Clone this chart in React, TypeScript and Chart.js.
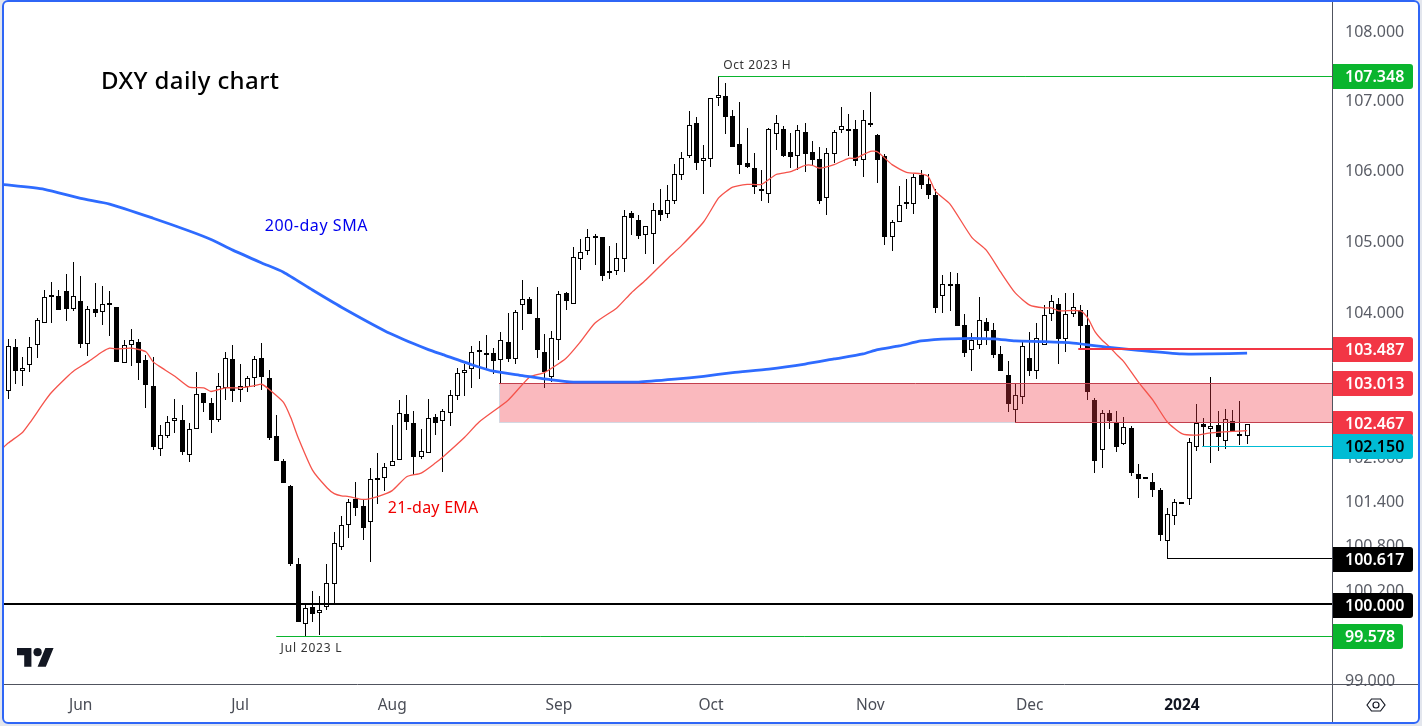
import React, { useEffect, useRef } from "react";
import { Chart, registerables } from "chart.js";

Chart.register(...registerables);

const opens = [102.90,103.52,103.19,103.27,103.54,103.85,104.23,104.23,104.30,104.05,104.16,103.56,104.04,104.01,104.13,104.07,103.30,103.55,103.59,103.34,
102.98,102.11,102.29,102.49,102.51,102.03,102.38,102.88,102.74,102.51,102.95,103.35,102.92,102.96,103.08,103.36,103.09,102.29,101.95,101.61,
100.54,99.74,99.97,99.89,99.97,100.27,100.78,101.08,101.43,101.33,101.11,101.71,101.71,101.87,101.96,102.59,102.47,102.00,102.06,102.55,
102.49,102.61,102.84,103.15,103.21,103.48,103.40,103.43,103.33,103.58,103.35,104.10,104.18,103.92,103.45,103.10,103.62,104.27,104.12,104.75,
104.86,105.07,105.06,104.57,104.57,104.74,105.39,105.29,105.08,105.10,105.44,105.38,105.57,105.93,106.20,106.67,106.13,106.16,107.03,107.06,
106.77,106.37,106.10,106.03,105.73,105.66,106.52,106.59,106.26,106.20,106.54,106.26,106.16,105.60,106.23,106.58,106.59,106.59,106.14,106.68,
106.50,106.20,105.06,105.27,105.55,105.52,105.93,105.80,105.65,104.22,104.36,104.40,103.82,103.47,103.55,103.86,103.75,103.42,103.13,102.65,
102.83,103.36,103.19,103.55,103.98,104.11,103.63,103.98,104.03,103.82,102.78,102.10,102.60,102.48,102.18,102.40,101.77,101.72,101.66,101.55,
100.86,101.20,101.38,101.42,102.14,102.45,102.39,102.44,102.22,102.49,102.31,102.29];

const highs = [103.63,103.63,103.38,103.66,103.92,104.31,104.42,104.31,104.53,104.70,104.51,104.09,104.41,104.37,104.30,104.07,103.61,103.77,103.63,103.41,
103.38,102.44,102.56,102.80,102.71,102.47,103.17,102.88,102.81,103.16,103.45,103.55,103.28,103.11,103.39,103.57,103.20,102.58,101.97,101.62,
100.62,100.00,100.18,100.12,100.55,100.98,101.20,101.43,101.66,101.43,101.85,102.05,101.92,102.44,102.78,102.85,102.63,102.38,102.80,102.59,
102.66,102.92,103.22,103.28,103.53,103.60,103.68,103.50,103.72,103.99,104.03,104.45,104.21,104.35,103.70,103.74,104.30,104.28,104.92,105.03,
105.17,105.10,105.06,104.93,104.97,105.43,105.42,105.37,105.21,105.53,105.74,105.79,106.09,106.26,106.84,106.76,106.36,107.03,107.348,107.25,
106.86,106.97,106.60,106.24,106.01,106.60,106.79,106.63,106.53,106.64,106.67,106.41,106.33,106.31,106.57,106.90,106.80,106.72,106.86,107.12,
106.51,106.23,105.29,105.77,105.87,105.95,106.00,105.95,105.73,104.52,104.56,104.55,103.97,103.71,104.21,103.92,103.85,103.53,103.32,103.00,
103.60,103.72,103.85,104.10,104.24,104.20,104.27,104.27,104.10,104.03,102.81,102.65,102.65,102.63,102.55,102.43,101.90,101.72,101.78,101.58,
101.31,101.43,101.38,102.26,102.73,102.54,103.10,102.63,102.66,102.65,102.77,102.45];

const lows = [102.80,103.00,102.98,103.17,103.36,103.85,103.85,104.03,103.88,104.02,103.50,103.39,103.93,103.82,103.67,103.31,103.30,103.25,103.06,102.67,
102.10,102.01,102.26,102.33,102.03,101.93,102.38,102.62,102.33,102.48,102.78,102.76,102.76,102.89,102.96,102.92,102.23,101.95,101.65,100.52,
99.76,99.578,99.77,99.59,99.93,100.01,100.74,100.90,101.20,100.87,100.57,101.36,101.54,101.87,101.96,102.37,101.76,101.97,102.06,102.30,
101.80,102.43,102.78,102.84,102.95,103.07,103.22,103.14,103.01,103.31,103.28,103.75,103.97,103.36,102.95,103.03,103.34,104.03,104.12,104.59,
104.80,104.66,104.43,104.47,104.52,104.56,105.08,105.03,104.82,104.68,105.28,105.32,105.52,105.86,106.17,106.01,105.66,106.04,106.92,106.51,
106.33,105.95,106.03,105.66,105.56,105.53,106.29,106.19,106.03,106.01,105.97,106.07,105.52,105.36,106.10,106.53,106.20,106.06,105.90,106.61,
105.82,104.94,104.86,105.27,105.45,105.38,105.74,105.59,103.99,103.99,104.02,103.81,103.38,103.18,103.49,103.54,103.37,103.18,102.62,102.47,
102.73,103.11,103.07,103.55,103.88,103.28,103.45,103.93,103.50,102.78,101.78,101.85,102.38,102.07,102.17,101.74,101.44,101.71,101.45,100.85,
100.617,101.08,101.37,101.35,102.08,102.14,101.92,102.08,102.11,102.36,102.16,102.18];

const closes = [103.53,103.19,103.23,103.51,103.89,104.21,104.24,104.03,104.04,104.22,103.56,104.04,103.99,104.12,104.12,103.31,103.55,103.62,103.30,102.99,
102.14,102.30,102.48,102.53,102.07,102.39,102.87,102.74,102.51,102.97,103.36,102.91,102.97,103.08,103.35,103.10,102.26,101.95,101.65,100.55,
99.77,99.96,99.87,99.93,100.29,100.83,101.08,101.38,101.30,101.03,101.70,101.70,101.86,101.95,102.60,102.48,102.00,102.08,102.54,102.47,
102.63,102.85,103.16,103.20,103.44,103.44,103.43,103.32,103.61,103.35,104.00,104.18,103.97,103.48,103.17,103.64,104.26,104.16,104.78,104.84,
105.05,105.06,104.51,104.56,104.76,105.35,105.32,105.07,105.21,105.44,105.37,105.58,105.94,106.17,106.65,106.11,106.17,107.03,107.07,106.76,
106.33,106.08,106.04,105.76,105.72,106.59,106.67,106.20,106.19,106.57,106.23,106.14,105.57,106.24,106.54,106.63,106.58,106.13,106.71,106.67,
106.14,105.05,105.26,105.50,105.54,105.90,105.79,105.65,104.06,104.39,104.39,103.81,103.43,103.61,103.89,103.74,103.41,103.18,102.73,102.85,
103.53,103.18,103.64,103.96,104.15,103.63,103.98,104.08,103.81,102.89,101.95,102.60,102.49,102.14,102.41,101.78,101.70,101.71,101.55,100.94,
101.22,101.38,101.37,102.20,102.46,102.41,102.43,102.27,102.52,102.36,102.29,102.45];

const emaIndex = [-1,0,2,3,5,6,8,9,11,13,14,15,17,19,20,21,23,25,27,28,30,32,34,35,36,38,39,40,42,44,45,46,47,49,51,53,55,57,59,60,63,65,69,72,74,77,79,81,84,86,88,91,93,96,98,99,100,102,104,106,108,110,111,112,114,116,117,119,120,122,124,126,127,128,130,133,135,137,139,141,143,144,145,148,149,150,151,152,153,154,156,158,160,162,164,166,171];
const emaValues = [102.10,102.19,102.34,102.47,102.76,102.89,103.09,103.18,103.31,103.45,103.50,103.49,103.50,103.45,103.31,103.24,103.11,102.96,102.95,102.90,102.95,102.95,102.98,103.00,102.93,102.75,102.54,102.27,101.82,101.58,101.50,101.47,101.46,101.42,101.46,101.54,101.73,101.78,101.92,102.00,102.27,102.48,102.78,103.10,103.16,103.36,103.59,103.85,104.06,104.27,104.45,104.75,104.94,105.27,105.60,105.69,105.76,105.80,105.80,105.94,105.98,106.07,106.07,106.03,106.08,106.17,106.17,106.27,106.26,106.08,105.97,105.95,105.91,105.70,105.52,105.05,104.87,104.56,104.27,104.10,104.06,104.06,104.02,104.02,103.92,103.73,103.61,103.52,103.41,103.31,103.03,102.78,102.48,102.32,102.30,102.33,102.36];

const smaIndex = [-1,5,10,14,20,25,28,31,35,38,42,46,52,56,58,60,64,67,71,75,78,83,87,92,96,100,105,110,114,118,120,123,126,130,136,139,143,147,152,156,162,166,171];
const smaValues = [105.80,105.73,105.60,105.52,105.32,105.14,105.02,104.87,104.69,104.56,104.31,104.07,103.74,103.56,103.48,103.41,103.27,103.18,103.12,103.06,103.03,103.03,103.03,103.07,103.11,103.16,103.21,103.28,103.35,103.42,103.48,103.53,103.60,103.63,103.63,103.60,103.59,103.57,103.51,103.47,103.42,103.42,103.43];

const yTickValues = [108, 107, 106, 105, 104, 102, 101.4, 100.8, 100.2, 99];
const monthTickIndex = [10, 32, 53, 76, 97, 119, 141, 162];
const monthTickLabels = ["Jun", "Jul", "Aug", "Sep", "Oct", "Nov", "Dec", "2024"];

const levelPrices = [107.348, 103.487, 102.15, 100.617, 100, 99.578];
const levelStarts = [98, 147.7, 164.8, 160, -1, 37];
const levelColors = ["#0ab52e", "#f23645", "#00bcd4", "#000000", "#000000", "#0ab52e"];
const levelWidths = [1, 2, 1, 1, 2, 1];

const zoneTop = 103.013;
const zoneBottom = 102.467;
const zoneStart = 67.8;
const zoneEdgeStart = 139;

const tagPrices = [107.348, 103.487, 103.013, 102.467, 102.15, 100.617, 100, 99.578];
const tagFills = ["#0ab52e", "#f23645", "#f23645", "#f23645", "#00bcd4", "#000000", "#000000", "#0ab52e"];
const tagInk = ["#ffffff", "#ffffff", "#ffffff", "#ffffff", "#000000", "#ffffff", "#ffffff", "#ffffff"];

const noteTexts = ["DXY daily chart", "200-day SMA", "21-day EMA", "Oct 2023 H", "Jul 2023 L"];
const noteIndex = [12.8, 35.4, 52.4, 98.7, 37.6];
const notePrices = [107.276, 105.22, 101.31, 107.52, 99.43];
const noteFonts = ['500 24px "Noto Sans"', '16px "Noto Sans"', '16px "Noto Sans"', '12px "Noto Sans"', '12px "Noto Sans"'];
const noteSpacing = ["0.4px", "0.55px", "0.25px", "0.6px", "0.8px"];
const noteColors = ["#000000", "#0000ee", "#f00000", "#333333", "#333333"];

const FONT = '"Noto Sans", sans-serif';
const snap = (v: number) => Math.floor(v) + 0.5;

const candleIdx = opens.map((_, i) => i);

const snapBars = {
  id: "snapBars",
  beforeDraw(chart: any) {
    const items = chart.scales.y.getLabelItems(chart.chartArea);
    items.forEach((it: any) => {
      it.options.translation[1] += 1.5;
    });
  },
  beforeDatasetDraw(chart: any, args: any) {
    const meta = args.meta;
    if (meta.type !== "bar") return;
    const thick = chart.data.datasets[args.index].barThickness > 1;
    meta.data.forEach((el: any) => {
      el.x = snap(el.x);
      const a = Math.round(el.y);
      let b = Math.round(el.base);
      if (Math.abs(a - b) < (thick ? 2 : 1)) b = a + (thick ? 2 : 1);
      el.y = a;
      el.base = b;
    });
  },
};

const zonePlugin = {
  id: "zone",
  afterDatasetDraw(chart: any, args: any) {
    if (args.index !== 1) return;
    const { ctx, scales, chartArea } = chart;
    const top = snap(scales.y.getPixelForValue(zoneTop));
    const bot = snap(scales.y.getPixelForValue(zoneBottom));
    const left = Math.round(scales.x.getPixelForValue(zoneStart));
    const mid = Math.round(scales.x.getPixelForValue(zoneEdgeStart));
    ctx.save();
    ctx.fillStyle = "rgba(242,54,69,0.35)";
    ctx.fillRect(left, top, chartArea.right - left, bot - top);
    ctx.lineWidth = 1;
    ctx.strokeStyle = "#d3d8e2";
    ctx.beginPath();
    ctx.moveTo(left + 0.5, top);
    ctx.lineTo(left + 0.5, bot);
    ctx.lineTo(mid, bot);
    ctx.stroke();
    ctx.strokeStyle = "#c23f4d";
    ctx.beginPath();
    ctx.moveTo(left, top);
    ctx.lineTo(chartArea.right, top);
    ctx.moveTo(mid, bot);
    ctx.lineTo(chartArea.right, bot);
    ctx.stroke();
    ctx.restore();
  },
};

const overlayPlugin = {
  id: "overlay",
  afterDatasetsDraw(chart: any) {
    const { ctx, scales, chartArea } = chart;
    ctx.save();
    levelPrices.forEach((p, i) => {
      const raw = scales.y.getPixelForValue(p);
      const y = levelWidths[i] === 2 ? Math.floor(raw) : snap(raw);
      const x0 = Math.max(scales.x.getPixelForValue(levelStarts[i]), chartArea.left);
      ctx.strokeStyle = levelColors[i];
      ctx.lineWidth = levelWidths[i];
      ctx.beginPath();
      ctx.moveTo(x0, y);
      ctx.lineTo(chartArea.right, y);
      ctx.stroke();
    });
    ctx.textBaseline = "middle";
    ctx.textAlign = "left";
    noteTexts.forEach((t, i) => {
      ctx.font = noteFonts[i];
      ctx.letterSpacing = noteSpacing[i];
      ctx.fillStyle = noteColors[i];
      ctx.fillText(t, scales.x.getPixelForValue(noteIndex[i]), scales.y.getPixelForValue(notePrices[i]) + 1);
    });
    ctx.letterSpacing = "0px";
    // watermark
    const logo = new Path2D("M14 22H7V11H0V4h14v18zM28 22h-8l7.5-18h8L28 22z");
    ctx.translate(17, 644);
    ctx.scale(1.03, 1.03);
    ctx.fillStyle = "#131722";
    ctx.fill(logo);
    ctx.beginPath();
    ctx.arc(20, 8, 4, 0, Math.PI * 2);
    ctx.fill();
    ctx.restore();
  },
  afterDraw(chart: any) {
    const { ctx, scales, chartArea } = chart;
    ctx.save();
    ctx.strokeStyle = "#50535e";
    ctx.lineWidth = 1;
    ctx.beginPath();
    ctx.moveTo(chartArea.right + 0.5, 2);
    ctx.lineTo(chartArea.right + 0.5, 723);
    ctx.moveTo(4, chartArea.bottom + 0.5);
    ctx.lineTo(1418, chartArea.bottom + 0.5);
    ctx.stroke();
    ctx.font = `600 16px ${FONT}`;
    ctx.textBaseline = "middle";
    ctx.textAlign = "left";
    tagPrices.forEach((p, i) => {
      const y = Math.round(scales.y.getPixelForValue(p));
      const text = p.toFixed(3);
      const x = chartArea.right + 1;
      ctx.fillStyle = tagFills[i];
      ctx.beginPath();
      ctx.roundRect(x, y - 12, p < 100 ? 70 : 80, 25, [0, 3, 3, 0]);
      ctx.fill();
      ctx.fillStyle = tagInk[i];
      ctx.fillText(text, x + 12, y + 1);
    });
    // settings glyph
    ctx.strokeStyle = "#131722";
    ctx.lineWidth = 1.2;
    ctx.beginPath();
    ctx.moveTo(1367, 705);
    ctx.lineTo(1371.5, 699);
    ctx.lineTo(1380.5, 699);
    ctx.lineTo(1385, 705);
    ctx.lineTo(1380.5, 711);
    ctx.lineTo(1371.5, 711);
    ctx.closePath();
    ctx.moveTo(1379, 705);
    ctx.arc(1376, 705, 3, 0, Math.PI * 2);
    ctx.stroke();
    ctx.restore();
  },
};

export default function App() {
  const ref = useRef<HTMLCanvasElement | null>(null);
  useEffect(() => {
    if (!ref.current) return;
    const chart = new Chart(ref.current, {
      type: "bar",
      data: {
        datasets: [
          {
            label: "Wicks",
            data: candleIdx.map((i) => ({ x: i, y: [lows[i], highs[i]] })),
            backgroundColor: "#000000",
            borderWidth: 0,
            barThickness: 1,
            inflateAmount: 0,
            grouped: false,
            order: 6,
          },
          {
            label: "Bodies",
            data: candleIdx.map((i) => ({ x: i, y: [opens[i], closes[i]] })),
            backgroundColor: candleIdx.map((i) => (closes[i] >= opens[i] ? "#ffffff" : "#000000")),
            borderColor: "#000000",
            borderWidth: 1,
            borderSkipped: false,
            barThickness: 5,
            inflateAmount: 0,
            grouped: false,
            order: 5,
          },
          {
            type: "line",
            label: "21-day EMA",
            data: emaIndex.map((x, i) => ({ x, y: emaValues[i] })),
            borderColor: "#f5534b",
            borderWidth: 1.3,
            pointRadius: 0,
            tension: 0.2,
            order: 2,
          },
          {
            type: "line",
            label: "200-day SMA",
            data: smaIndex.map((x, i) => ({ x, y: smaValues[i] })),
            borderColor: "#2e6bff",
            borderWidth: 2.8,
            pointRadius: 0,
            tension: 0.2,
            order: 1,
          },
        ] as any,
      },
      options: {
        responsive: false,
        animation: false,
        devicePixelRatio: 1,
        events: [],
        layout: { padding: { left: 4, top: 2, right: 4, bottom: 3 } },
        plugins: { legend: { display: false }, tooltip: { enabled: false } },
        scales: {
          x: {
            type: "linear",
            offset: false,
            min: -0.58,
            max: 182.72,
            grid: { display: false, drawTicks: false },
            border: { display: false },
            afterBuildTicks: (axis: any) => {
              axis.ticks = monthTickIndex.map((value) => ({ value }));
            },
            afterFit: (s: any) => {
              s.height = 39;
              s.paddingLeft = 0;
              s.paddingRight = 0;
            },
            ticks: {
              autoSkip: false,
              maxRotation: 0,
              padding: 12,
              color: (c: any) => (c.tick && c.tick.value === 162 ? "#131722" : "#4a4d56"),
              font: (c: any) => ({
                family: FONT,
                size: 15.5,
                weight: c.tick && c.tick.value === 162 ? "bold" : "normal",
              }),
              callback: (v: any) => monthTickLabels[monthTickIndex.indexOf(v)] ?? "",
            },
          },
          y: {
            type: "logarithmic",
            position: "right",
            bounds: "data",
            min: 98.94,
            max: 108.42,
            grid: { display: false, drawTicks: false },
            border: { display: false },
            afterBuildTicks: (axis: any) => {
              axis.ticks = yTickValues.map((value) => ({ value }));
            },
            afterFit: (s: any) => {
              s.width = 86;
              s.paddingTop = 0;
              s.paddingBottom = 0;
            },
            ticks: {
              autoSkip: false,
              padding: 13,
              color: "#5a5d66",
              font: { family: FONT, size: 16 },
              callback: (v: any) => Number(v).toFixed(3),
            },
          },
        },
      } as any,
      plugins: [snapBars, zonePlugin, overlayPlugin],
    });
    return () => chart.destroy();
  }, []);

  return (
    <div style={{ position: "fixed", left: 0, top: 0, width: 1422, height: 726, background: "#e3e6ed", overflow: "hidden" }}>
      <div style={{ position: "absolute", left: 2, top: 0, width: 1418, height: 724, background: "#ffffff", borderRadius: 6 }} />
      <canvas ref={ref} width={1422} height={726} style={{ position: "absolute", left: 0, top: 0, display: "block" }} />
      <div
        style={{
          position: "absolute",
          left: 2,
          top: 0,
          width: 1418,
          height: 724,
          boxSizing: "border-box",
          border: "2px solid #2f66f6",
          borderRadius: 6,
          pointerEvents: "none",
        }}
      />
    </div>
  );
}
